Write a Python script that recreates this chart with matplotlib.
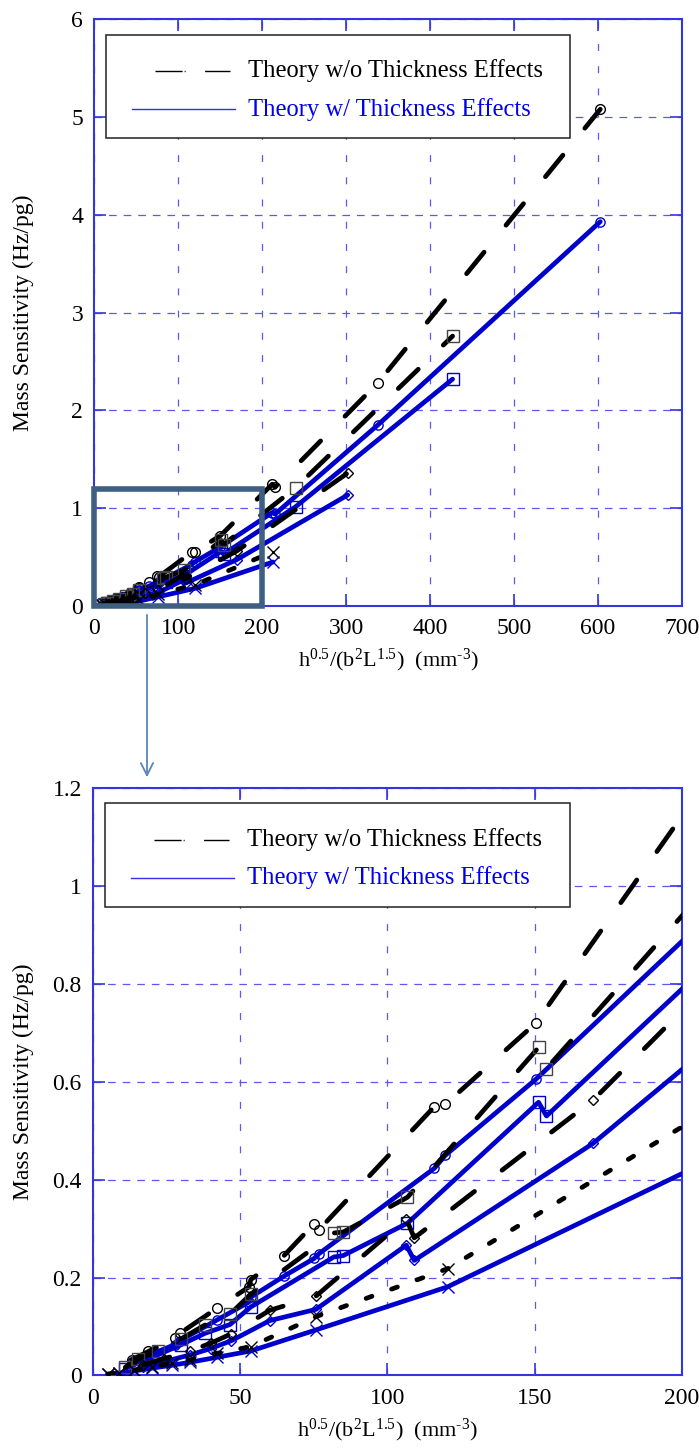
import numpy as np
import matplotlib
matplotlib.use('Agg')
import matplotlib.pyplot as plt
from matplotlib.patches import Rectangle
from matplotlib.ticker import FuncFormatter

plt.rcParams['font.family'] = ['Liberation Serif', 'DejaVu Serif']
plt.rcParams['mathtext.fontset'] = 'custom'
plt.rcParams['mathtext.rm'] = 'Liberation Serif'
plt.rcParams['mathtext.it'] = 'Liberation Serif:italic'
plt.rcParams['lines.scale_dashes'] = False

# circles
circ_x = [13.1, 18.8, 27.8, 29.5, 42.0, 53.0, 53.6, 64.9, 75.1, 76.8, 115.9, 119.7, 150.4, 212.0, 215.4, 337.8, 603.0]
circ_bare = [0.032, 0.049, 0.076, 0.086, 0.137, 0.181, 0.196, 0.245, 0.310, 0.298, 0.549, 0.554, 0.720, 1.245, 1.215, 2.28, 5.08]
circ_thick = [0.027, 0.041, 0.063, 0.071, 0.113, 0.150, 0.160, 0.203, 0.239, 0.249, 0.423, 0.450, 0.605, 0.955, 0.940, 1.85, 3.93]
# squares
sq_x = [11.0, 15.3, 22.0, 30.0, 38.0, 46.5, 53.6, 81.8, 85.0, 106.8, 151.3, 154.0, 240.0, 427.0]
sq_bare = [0.017, 0.033, 0.050, 0.075, 0.103, 0.125, 0.166, 0.291, 0.293, 0.364, 0.670, 0.627, 1.21, 2.76]
sq_thick = [0.014, 0.028, 0.042, 0.063, 0.086, 0.104, 0.140, 0.242, 0.245, 0.311, 0.558, 0.530, 1.015, 2.32]
# diamonds
dia_x = [17.0, 24.0, 33.0, 40.0, 47.0, 60.0, 75.7, 106.4, 109.1, 169.8, 302.0]
dia_bare = [0.022, 0.034, 0.050, 0.066, 0.085, 0.133, 0.162, 0.320, 0.281, 0.5625, 1.36]
dia_thick = [0.018, 0.028, 0.042, 0.055, 0.071, 0.112, 0.135, 0.266, 0.235, 0.474, 1.135]
# crosses
xs_x = [5.0, 9.0, 14.0, 20.0, 27.0, 33.0, 42.0, 53.6, 75.7, 120.4, 213.0]
xs_bare = [0.003, 0.006, 0.011, 0.018, 0.025, 0.032, 0.045, 0.059, 0.120, 0.218, 0.555]
xs_thick = [0.002, 0.005, 0.009, 0.015, 0.021, 0.027, 0.037, 0.050, 0.093, 0.181, 0.450]

legend_labels = ['Theory w/o Thickness Effects', 'Theory w/ Thickness Effects']

BLUE = '#0000cc'
GRIDC = '#5a5aee'
SPINEC = '#3535e0'
long_dash = (20, 25)
short_dash = (4.5, 15)

series = [
    (circ_x, circ_bare, circ_thick, 'o', 7, long_dash, 'k'),
    (sq_x, sq_bare, sq_thick, 's', 8.5, long_dash, '#444444'),
    (dia_x, dia_bare, dia_thick, 'D', 5.5, long_dash, 'k'),
    (xs_x, xs_bare, xs_thick, 'x', 8.5, short_dash, 'k'),
]


def draw(ax, xmax, ymax, xstep, ystep):
    for x, bare, thick, mk, ms, dsh, mc in series:
        ax.plot(x, thick, color=BLUE, lw=3.4, marker=mk, ms=ms * 0.95,
                mfc='none', mec=BLUE, mew=1.0, solid_capstyle='round', zorder=3)
        ax.plot(x, bare, color='k', lw=3.4, dashes=dsh, dash_capstyle='round',
                marker=mk, ms=ms, mfc='none', mec=mc, mew=1.0, zorder=4)
    ax.set_xlim(0, xmax)
    ax.set_ylim(0, ymax)
    ax.set_xticks(np.arange(0, xmax + 1e-9, xstep))
    ax.set_yticks(np.arange(0, ymax + 1e-9, ystep))
    ax.yaxis.set_major_formatter(FuncFormatter(lambda v, p: '%g' % round(v, 3)))
    ax.xaxis.set_major_formatter(FuncFormatter(lambda v, p: '%g' % round(v, 3)))
    ax.xaxis.grid(True, color=GRIDC, lw=0.9, linestyle=(0, (5, 11)))
    ax.yaxis.grid(True, color=GRIDC, lw=0.9, linestyle=(0, (5.5, 5)))
    ax.set_axisbelow(True)
    for s in ax.spines.values():
        s.set_color(SPINEC)
        s.set_linewidth(1.5)
    ax.tick_params(direction='in', length=8.5, width=1.2, color=SPINEC,
                   top=True, right=True, labelsize=17, pad=8)
    ax.tick_params(axis='x', pad=9)
    ax.set_ylabel('Mass Sensitivity (Hz/pg)', fontsize=17)
    ax.set_xlabel(r'h$^{0.5}$/(b$^{2}$L$^{1.5}$)  (mm$^{\text{-3}}$)', fontsize=16)

    # legend drawn by hand
    ax.add_patch(Rectangle((0.02, 0.797), 0.79, 0.177, transform=ax.transAxes,
                           facecolor='white', edgecolor='#222222', lw=1.1, zorder=6))
    ax.plot([0.1034, 0.231], [0.912, 0.912], transform=ax.transAxes, color='k',
            lw=1.0, dashes=(19.5, 1.5, 0.7, 14), zorder=7)
    ax.plot([0.0644, 0.2395], [0.847, 0.847], transform=ax.transAxes, color='#3030ee',
            lw=1.0, zorder=7)
    ax.text(0.262, 0.912, legend_labels[0], transform=ax.transAxes, fontsize=17.7,
            va='center', ha='left', color='k', zorder=8)
    ax.text(0.262, 0.847, legend_labels[1], transform=ax.transAxes, fontsize=17.7,
            va='center', ha='left', color='#0000ee', zorder=8)


fig = plt.figure(figsize=(6.99, 14.48), dpi=100)
ax1 = fig.add_axes([0.1349, 0.5815, 0.8403, 0.4052])
ax2 = fig.add_axes([0.1330, 0.0501, 0.8426, 0.4057])

draw(ax1, 700, 6, 100, 1)
draw(ax2, 200, 1.2, 50, 0.2)

ax1.yaxis.set_label_coords(-0.102, 0.5)
ax1.xaxis.set_label_coords(0.5, -0.07)
ax2.yaxis.set_label_coords(-0.100, 0.5)
ax2.xaxis.set_label_coords(0.5, -0.07)

# zoom box on top panel and arrow to lower panel
ax1.add_patch(Rectangle((0, 0), 200, 1.2, facecolor='none', edgecolor='#3e5f82',
                        lw=4, clip_on=False, zorder=10))
fig.patches.append(matplotlib.patches.FancyArrowPatch(
    (0.2103, 0.5773), (0.2103, 0.4613), transform=fig.transFigure,
    arrowstyle='->', mutation_scale=22, color='#5b86bd', lw=1.3))

fig.savefig('out.png', dpi=100)
